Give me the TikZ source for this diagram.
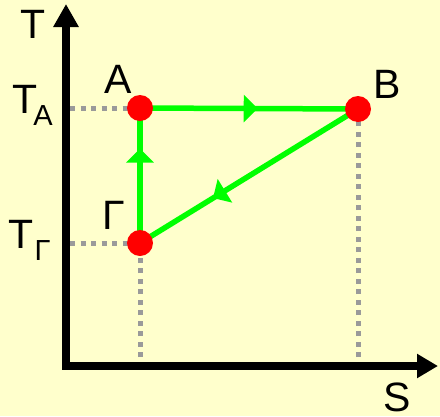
\documentclass[tikz,border=0pt]{standalone}
\usepackage{fontspec}
\setmainfont{Liberation Sans}
\usetikzlibrary{arrows.meta,decorations.markings}
\definecolor{bgyellow}{HTML}{FFFFCC}
\definecolor{grn}{HTML}{00FF00}
\definecolor{dotgray}{HTML}{9A9A9A}
\pgfdeclarelayer{bglayer}
\pgfdeclarelayer{linelayer}
\pgfsetlayers{bglayer,linelayer,main}
\begin{document}
\begin{tikzpicture}[x=1pt,y=-1pt,
  lab/.style={inner sep=0pt, font=\fontsize{41}{41}\selectfont},
  sublab/.style={inner sep=0pt, font=\fontsize{29}{29}\selectfont},
  statept/.style={circle, fill=red, minimum size=26pt, inner sep=0pt},
  axisline/.style={line width=8.5pt, line join=miter},
  guide/.style={dotgray, line width=5pt, dash pattern=on 5pt off 5.5pt},
  flow/.style={grn, line width=5.5pt},
  midarrow/.style={postaction={decorate}, decoration={markings, mark=at position #1 with {\arrow[grn]{Triangle[length=14pt,width=27pt]}}}}
]
\begin{pgfonlayer}{bglayer}
\fill[bgyellow] (0,0) rectangle (440,416);
\end{pgfonlayer}
\useasboundingbox (0,0) rectangle (440,416);

% points
\node[statept] (A) at (140,108) {};
\node[statept] (B) at (358,109) {};
\node[statept] (G) at (140,243) {};

% axes
\coordinate (Ttip) at (66,4);
\coordinate (O) at (66,366);
\coordinate (Stip) at (438,366);
\coordinate (yA) at (70,108);
\coordinate (yG) at (70,243);
\coordinate (xG) at (140,357);
\coordinate (xB) at (358,357);

\begin{pgfonlayer}{linelayer}
\draw[axisline, {Triangle[length=23pt,width=24pt]}-{Triangle[length=21pt,width=23pt]}] (Ttip) -- (O) -- (Stip);
\draw[guide] (yA) -- (A.center);
\draw[guide] (yG) -- (G.center);
\draw[guide] (xG) -- (G.center);
\draw[guide] (xB) -- (B.center);
\draw[flow, midarrow=0.54] (A.center) -- (B.center);
\draw[flow, midarrow=0.665] (B.center) -- (G.center);
\draw[flow, midarrow=0.70] (G.center) -- (A.center);
\end{pgfonlayer}

% labels
\node[lab] (Tlab) at (33.5,24) {T};
\node[lab] (Slab) at (397,397) {S};
\node[lab] (Alab) at (118,79) {A};
\node[lab] (Blab) at (387,84) {B};
\node[lab] (Glab) at (114,215.5) {Γ};
\node[lab] (TA) at (25,99.5) {T};
\node[sublab] (TAsub) at (43,116) {A};
\node[lab] (TG) at (21,234) {T};
\node[sublab] (TGsub) at (42.5,251) {Γ};
\end{tikzpicture}
\end{document}
